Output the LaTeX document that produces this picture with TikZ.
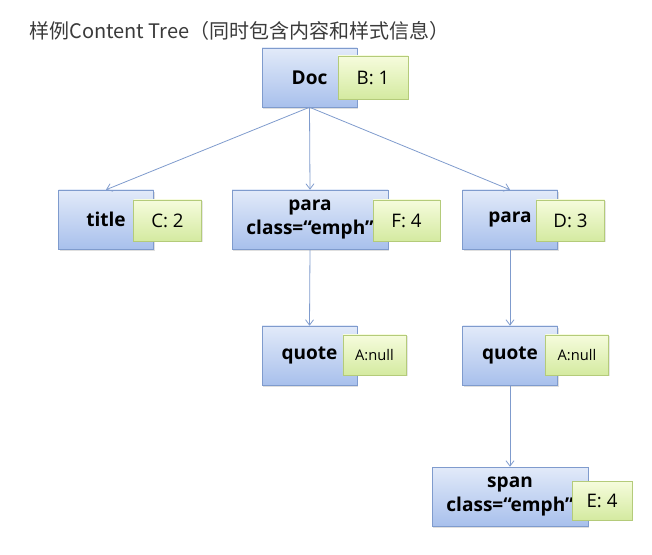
\documentclass[tikz,border=0pt]{standalone}
\usepackage{fontspec}
\setmainfont{Open Sans}
\newfontfamily\cjk{Noto Sans CJK SC}
\usetikzlibrary{arrows.meta,shadows}
\definecolor{boxline}{HTML}{7F9BCD}
\definecolor{blutop}{HTML}{E2EAF9}
\definecolor{blubot}{HTML}{A8C0EC}
\definecolor{tagline}{HTML}{B4CB7A}
\definecolor{tagtop}{HTML}{F6FCDD}
\definecolor{tagbot}{HTML}{D4EAA0}
\definecolor{headgray}{HTML}{3A3A3A}
\begin{document}
\begin{tikzpicture}[x=0.75pt,y=-0.75pt,
  elem/.style={draw=boxline,top color=blutop,bottom color=blubot,
    minimum width=71.25pt,minimum height=44.25pt,inner sep=1pt,align=center,
    font=\bfseries\fontsize{14.3}{18.5}\selectfont,
    drop shadow={opacity=0.25,shadow xshift=1pt,shadow yshift=-1.2pt}},
  wideelem/.style={elem,minimum width=117pt},
  tag/.style={draw=tagline,top color=tagtop,bottom color=tagbot,
    minimum width=51pt,minimum height=31pt,inner sep=1pt,
    font=\fontsize{14}{16}\selectfont,
    drop shadow={opacity=0.2,shadow xshift=1pt,shadow yshift=-1pt}},
  smalltag/.style={tag,minimum width=47.5pt,minimum height=30pt,
    font=\fontsize{11}{13}\selectfont},
  link/.style={draw=boxline,line width=0.6pt,-{Straight Barb[length=4pt,width=6pt]}}]
 \useasboundingbox (0,0) rectangle (652,555);
 % heading
 \node[anchor=west,inner sep=0pt,text=headgray,font=\cjk\fontsize{15}{18}\selectfont]
   (heading) at (29,31) {样例Content Tree（同时包含内容和样式信息）};
 % content tree
 \node[elem] (doc) at (309.5,77.5) {Doc};
 \node[elem] (title) at (106,219.5) {title};
 \node[wideelem] (para1) at (310,219.5) {para\\class=“emph”};
 \node[elem] (para2) at (510,219.5) {para};
 \node[elem] (quote1) at (309.5,355.5) {quote};
 \node[elem] (quote2) at (510,355.5) {quote};
 \node[wideelem] (span) at (510,496.5) {span\\class=“emph”};
 % style tags
 \node[tag,minimum width=52.5pt,minimum height=32.25pt] (tagb) at (373,77.5) {B: 1};
 \node[tag] (tagc) at (167.5,220.5) {C: 2};
 \node[tag,minimum width=50.25pt] (tagf) at (406.5,220.5) {F: 4};
 \node[tag] (tagd) at (570.5,220.5) {D: 3};
 \node[smalltag] (taga1) at (374.5,355) {A:null};
 \node[smalltag] (taga2) at (577,355) {A:null};
 \node[tag,minimum width=45pt,minimum height=29.25pt] (tage) at (602,500.5) {E: 4};
 % links
 \draw[link] (doc.south) -- (title.north);
 \draw[link] (doc.south) -- (para1.north);
 \draw[link] (doc.south) -- (para2.north);
 \draw[link] (para1.south) -- (quote1.north);
 \draw[link] (para2.south) -- (quote2.north);
 \draw[link] (quote2.south) -- (span.north);
\end{tikzpicture}
\end{document}
